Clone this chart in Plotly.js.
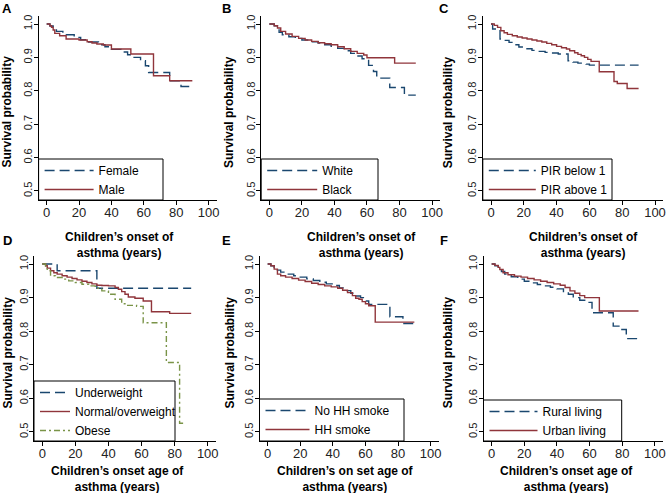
<!DOCTYPE html>
<html>
<head>
<meta charset="utf-8">
<script src="https://cdn.plot.ly/plotly-3.0.1.min.js"></script>
<style>html,body{margin:0;padding:0;background:#fff;}#chart{width:666px;height:493px;}</style>
</head>
<body>
<div id="chart"></div>
<script>
// ---------- data ----------
const xTicks = [0, 20, 40, 60, 80, 100];
const yTicks = [0.5, 0.6, 0.7, 0.8, 0.9, 1.0];
const yTickText = ["0.5", "0.6", "0.7", "0.8", "0.9", "1.0"];
const panelLetters = ["A", "B", "C", "D", "E", "F"];
const xTitles = [
  "Children\u2019s onset of<br>asthma (years)",
  "Children\u2019s onset of<br>asthma (years)",
  "Children\u2019s onset of<br>asthma (years)",
  "Children\u2019s onset age of<br>asthma (years)",
  "Children\u2019s on set age of<br>asthma (years)",
  "Children\u2019s onset age of<br>asthma (years)"
];
const yTitle = "Survival probability";

// Panel A: sex
const femaleT = [0, 2, 4, 6, 10, 12, 17, 21, 26, 32, 36, 40, 46, 50, 54, 58, 61, 63, 76, 83, 90];
const femaleS = [1.0, 0.994, 0.988, 0.978, 0.972, 0.968, 0.96, 0.953, 0.946, 0.938, 0.932, 0.924, 0.916, 0.908, 0.9, 0.89, 0.875, 0.855, 0.83, 0.813, 0.813];
const maleT = [0, 2, 3, 4, 5, 8, 12, 20, 25, 28, 31, 35, 40, 52, 66, 76, 90];
const maleS = [1.0, 0.995, 0.99, 0.982, 0.972, 0.965, 0.955, 0.952, 0.947, 0.943, 0.94, 0.937, 0.925, 0.91, 0.845, 0.83, 0.83];

// Panel B: race
const whiteT = [0, 3, 5, 6, 8, 12, 16, 20, 25, 30, 34, 38, 42, 46, 50, 54, 57, 61, 64, 66, 74, 83, 90];
const whiteS = [1.0, 0.995, 0.985, 0.975, 0.968, 0.962, 0.957, 0.952, 0.947, 0.943, 0.938, 0.933, 0.927, 0.92, 0.912, 0.904, 0.896, 0.876, 0.858, 0.838, 0.81, 0.787, 0.787];
const blackT = [0, 3, 5, 7, 10, 14, 18, 22, 26, 30, 34, 38, 42, 46, 50, 54, 58, 60, 77, 90];
const blackS = [1.0, 0.995, 0.988, 0.978, 0.97, 0.963, 0.957, 0.952, 0.948, 0.944, 0.941, 0.938, 0.932, 0.926, 0.918, 0.912, 0.907, 0.899, 0.883, 0.883];

// Panel C: poverty income ratio
const pirBelowT = [0, 1, 5.5, 8, 11, 14, 17, 21, 25, 29, 33, 37, 41, 47, 50, 53, 58, 60, 90];
const pirBelowS = [1.0, 0.985, 0.955, 0.951, 0.945, 0.938, 0.931, 0.926, 0.921, 0.918, 0.915, 0.913, 0.91, 0.89, 0.886, 0.883, 0.88, 0.877, 0.877];
const pirAboveT = [0, 2, 4, 6, 8, 10, 13, 16, 19, 22, 25, 28, 31, 34, 37, 40, 43, 46, 48, 51, 53, 55, 57, 59, 61, 66, 75, 77, 83, 90];
const pirAboveS = [1.0, 0.996, 0.99, 0.98, 0.974, 0.969, 0.965, 0.961, 0.958, 0.955, 0.952, 0.949, 0.946, 0.942, 0.938, 0.933, 0.929, 0.925, 0.92, 0.914, 0.909, 0.905, 0.9, 0.894, 0.888, 0.857, 0.828, 0.822, 0.807, 0.807];

// Panel D: weight status
const underT = [0, 9, 33, 90];
const underS = [1.0, 0.98, 0.928, 0.928];
const normalT = [0, 2, 3, 5, 7, 9, 12, 15, 18, 21, 24, 27, 30, 33, 36, 40, 44, 46, 48, 50, 52, 56, 61, 66, 77, 90];
const normalS = [1.0, 0.995, 0.988, 0.98, 0.974, 0.97, 0.965, 0.961, 0.957, 0.953, 0.949, 0.945, 0.941, 0.937, 0.936, 0.935, 0.93, 0.925, 0.918, 0.91, 0.902, 0.898, 0.89, 0.858, 0.853, 0.853];
const obeseT = [0, 2, 3, 5, 8, 12, 16, 20, 24, 28, 32, 36, 40, 44, 48, 51, 57, 61, 75, 83, 86];
const obeseS = [1.0, 0.99, 0.98, 0.965, 0.96, 0.955, 0.95, 0.945, 0.94, 0.935, 0.928, 0.92, 0.91, 0.895, 0.882, 0.877, 0.874, 0.825, 0.707, 0.526, 0.526];

// Panel E: household smoking
const noSmokeT = [0, 2, 4, 6, 8, 12, 16, 20, 24, 28, 32, 36, 40, 44, 48, 51, 54, 57, 60, 62, 75, 83, 90];
const noSmokeS = [1.0, 0.995, 0.99, 0.982, 0.976, 0.97, 0.965, 0.961, 0.956, 0.951, 0.946, 0.941, 0.936, 0.929, 0.921, 0.913, 0.905, 0.9, 0.89, 0.88, 0.843, 0.823, 0.823];
const smokeT = [0, 2, 4, 6, 8, 11, 15, 19, 23, 27, 31, 35, 39, 43, 46, 49, 52, 54, 56, 58, 60, 62, 66, 90];
const smokeS = [1.0, 0.995, 0.985, 0.97, 0.965, 0.961, 0.957, 0.952, 0.948, 0.943, 0.939, 0.935, 0.932, 0.928, 0.922, 0.915, 0.906, 0.898, 0.895, 0.888, 0.882, 0.876, 0.827, 0.827];

// Panel F: residence
const ruralT = [0, 2, 4, 6, 8, 12, 16, 20, 24, 28, 32, 36, 40, 44, 47, 50, 54, 58, 61.5, 74.5, 78, 82.5, 90];
const ruralS = [1.0, 0.995, 0.988, 0.978, 0.97, 0.962, 0.955, 0.949, 0.944, 0.939, 0.935, 0.931, 0.926, 0.918, 0.91, 0.9, 0.892, 0.886, 0.855, 0.815, 0.805, 0.778, 0.778];
const urbanT = [0, 2, 4, 5, 7, 10, 14, 18, 22, 26, 30, 34, 38, 42, 45, 48, 51, 54, 57, 66, 90];
const urbanS = [1.0, 0.996, 0.99, 0.984, 0.974, 0.968, 0.964, 0.961, 0.957, 0.953, 0.949, 0.945, 0.941, 0.937, 0.93, 0.92, 0.913, 0.906, 0.9, 0.86, 0.86];

// ---------- styling ----------
const W = 666, H = 493;
const FONT = "Liberation Sans, Arial, Helvetica, sans-serif";
const NAVY = "#1a476f", MAROON = "#90353b", GREEN = "#7a9448";
const styles = {
  navy: {color: NAVY, width: 1.4, dash: "10px,5px"},
  maroon: {color: MAROON, width: 1.4, dash: "solid"},
  green: {color: GREEN, width: 1.4, dash: "6px,3px,2px,3px"}
};

const panels = [
  {series: [["Female", femaleT, femaleS, "navy"], ["Male", maleT, maleS, "maroon"]]},
  {series: [["White", whiteT, whiteS, "navy"], ["Black", blackT, blackS, "maroon"]]},
  {series: [["PIR below 1", pirBelowT, pirBelowS, "navy"], ["PIR above 1", pirAboveT, pirAboveS, "maroon"]]},
  {series: [["Underweight", underT, underS, "navy"], ["Normal/overweight", normalT, normalS, "maroon"], ["Obese", obeseT, obeseS, "green"]]},
  {series: [["No HH smoke", noSmokeT, noSmokeS, "navy"], ["HH smoke", smokeT, smokeS, "maroon"]]},
  {series: [["Rural living", ruralT, ruralS, "navy"], ["Urban living", urbanT, urbanS, "maroon"]]}
];

// pixel geometry of each panel (plot region, legend box, titles)
const geo = [
  {l: 38.6, r: 216.6, t: 16, b: 200, legR: 163, legT: 159, itemW: 49, titleX: 119, titleY: 244.5, yTitX: 6.5, letX: 7, letY: 8},
  {l: 261.2, r: 440.2, t: 16, b: 200, legR: 378, legT: 159, itemW: 50, titleX: 361, titleY: 244.5, yTitX: 229, letX: 226, letY: 8},
  {l: 482.8, r: 663.2, t: 16, b: 200, legR: 612, legT: 159, itemW: 47, titleX: 583, titleY: 244.5, yTitX: 448.3, letX: 444, letY: 8},
  {l: 34, r: 216, t: 256, b: 441, legR: 175, legT: 381, itemW: 30, titleX: 117, titleY: 478.9, yTitX: 7, letX: 7, letY: 240},
  {l: 259.5, r: 438.8, t: 256, b: 441, legR: 404, legT: 399, itemW: 44, titleX: 346, titleY: 478.9, yTitX: 229, letX: 226, letY: 240},
  {l: 483.5, r: 663, t: 256, b: 441, legR: 621.7, legT: 400, itemW: 48, titleX: 566, titleY: 478.9, yTitX: 447.7, letX: 444, letY: 240}
];

const traces = [];
const layout = {
  width: W, height: H,
  margin: {l: 0, r: 0, t: 0, b: 0},
  paper_bgcolor: "#fff", plot_bgcolor: "#fff",
  font: {family: FONT, color: "#000", size: 12},
  showlegend: true,
  shapes: [], annotations: []
};

panels.forEach((p, i) => {
  const g = geo[i];
  const n = i === 0 ? "" : String(i + 1);
  const legKey = "legend" + n;
  p.series.forEach(([name, T, S, st]) => {
    traces.push({
      type: "scatter", mode: "lines", name: name,
      x: T, y: S,
      xaxis: "x" + n, yaxis: "y" + n, legend: legKey,
      line: Object.assign({shape: "hv"}, styles[st]),
      hoverinfo: "skip"
    });
  });
  layout["xaxis" + n] = {
    domain: [g.l / W, g.r / W], anchor: "y" + n,
    range: [-5, 105], tickvals: xTicks, ticks: "outside", ticklen: 4, tickwidth: 1,
    tickcolor: "#000", showline: true, linecolor: "#000", linewidth: 1,
    showgrid: false, zeroline: false, tickfont: {size: 13, color: "#222", family: FONT},
    ticklabelstandoff: -4,
    fixedrange: true
  };
  layout["yaxis" + n] = {
    domain: [1 - g.b / H, 1 - g.t / H], anchor: "x" + n,
    range: [0.473, 1.024], tickvals: yTicks, ticktext: yTickText, tickangle: -90,
    ticks: "outside", ticklen: 4, tickwidth: 1, tickcolor: "#000",
    showline: true, linecolor: "#000", linewidth: 1,
    showgrid: false, zeroline: false, tickfont: {size: 11, color: "#222", family: FONT},
    ticklabelstandoff: -3,
    fixedrange: true
  };
  layout[legKey] = {
    x: (g.l + 1) / W, y: 1 - (g.legT - 3) / H, xanchor: "left", yanchor: "top",
    xref: "paper", yref: "paper",
    bgcolor: "rgba(0,0,0,0)", borderwidth: 0,
    font: {size: 12, family: FONT, color: "#000"},
    itemwidth: g.itemW, tracegroupgap: 0, itemclick: false, itemdoubleclick: false
  };
  layout.shapes.push({
    type: "rect", xref: "paper", yref: "paper", layer: "above",
    x0: g.l / W, x1: g.legR / W, y0: 1 - g.b / H, y1: 1 - g.legT / H,
    line: {color: "#000", width: 1}, fillcolor: "rgba(0,0,0,0)"
  });
  layout.annotations.push({
    text: "<b>" + xTitles[i] + "</b>", xref: "paper", yref: "paper",
    x: g.titleX / W, y: 1 - g.titleY / H, xanchor: "center", yanchor: "middle",
    showarrow: false, font: {size: 12, family: FONT, color: "#000"}, align: "center"
  });
  layout.annotations.push({
    text: "<b>" + yTitle + "</b>", xref: "paper", yref: "paper",
    x: g.yTitX / W, y: 1 - ((g.t + g.b) / 2 + 4) / H, xanchor: "center", yanchor: "middle",
    textangle: -90, showarrow: false, font: {size: 12, family: FONT, color: "#000"}
  });
  layout.annotations.push({
    text: "<b>" + panelLetters[i] + "</b>", xref: "paper", yref: "paper",
    x: g.letX / W, y: 1 - g.letY / H, xanchor: "center", yanchor: "middle",
    showarrow: false, font: {size: 13, family: FONT, color: "#000"}
  });
});

Plotly.newPlot("chart", traces, layout, {displayModeBar: false, staticPlot: true});
</script>
</body>
</html>
